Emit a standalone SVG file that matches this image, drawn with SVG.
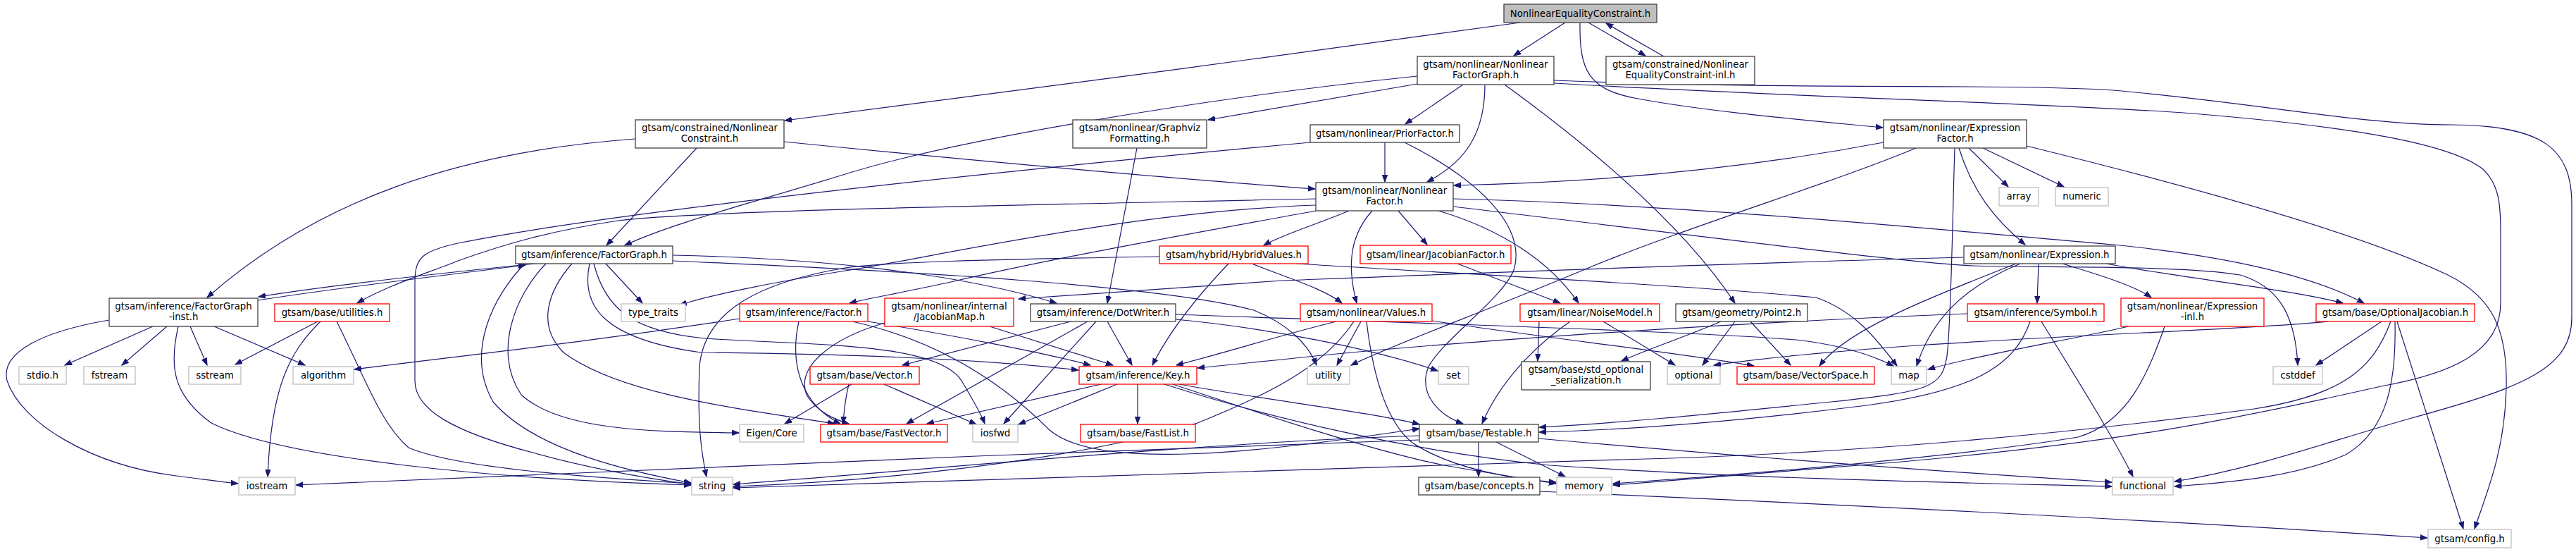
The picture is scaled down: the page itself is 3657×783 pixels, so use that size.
<svg xmlns="http://www.w3.org/2000/svg" width="3657" height="783" viewBox="0 0 3657 783">
<style>
rect{fill:#fff;stroke-width:1.3}
.n rect{stroke:#404040}
.t rect{stroke:#ff0000}
.x rect{stroke:#bfbfbf}
.r rect{fill:#bfbfbf;stroke:#404040}
text{font-family:"DejaVu Sans",sans-serif;font-size:13.3px;text-anchor:middle;fill:#000}
#edges path{fill:none;stroke:#191970;stroke-width:1.2;marker-end:url(#a)}
</style>
<defs>
<marker id="a" markerUnits="userSpaceOnUse" markerWidth="11" markerHeight="9" refX="10" refY="4" orient="auto">
<path d="M0,0.3 L10,4 L0,7.7 z" fill="#191970" stroke="#191970" stroke-width="1"/>
</marker>
</defs>
<rect x="0" y="0" width="3657" height="783" style="fill:#fff;stroke:none"/>
<g id="edges">
<path d="M2158,32 C1850,75 1400,135 1114,171"/>
<path d="M2222,32 L2149,79"/>
<path d="M2255,32 L2336,79"/>
<path d="M2362,80 L2280,33"/>
<path d="M2243,32 C2242,100 2255,126 2320,139 C2420,158 2560,170 2673,181"/>
<path d="M2012,108 C1700,140 1350,200 1200,247 C1060,290 950,318 887,348"/>
<path d="M2012,119 L1715,170"/>
<path d="M2077,120 L1995,176"/>
<path d="M2108,120 C2108,190 2080,230 2026,258"/>
<path d="M2136,120 C2260,210 2390,320 2463,430"/>
<path d="M2206,114 C2550,128 2850,118 3000,128 C3200,145 3350,177 3480,177 C3610,178 3651,210 3651,290 L3651,450 C3651,520 3590,548 3420,594 C3300,628 3200,665 3087,683"/>
<path d="M2206,118 C2550,138 2900,146 3100,160 C3350,180 3480,205 3525,240 C3548,262 3550,290 3550,330 L3550,430 C3550,500 3480,530 3380,548 C3150,600 3000,628 2700,655 C2500,672 2400,680 2290,688"/>
<path d="M902,197 C650,215 450,285 294,422"/>
<path d="M989,210 L861,348"/>
<path d="M1113,201 C1400,230 1700,256 1867,268"/>
<path d="M1614,210 L1572,430"/>
<path d="M1966,202 L1966,258"/>
<path d="M1860,202 C1500,235 900,295 650,345 C600,356 589,365 589,400 L589,540 C589,580 640,612 760,643 C850,668 930,680 981,687"/>
<path d="M1994,202 C2100,255 2165,320 2150,380 C2138,420 2050,480 2028,520 C2012,560 2045,590 2077,601"/>
<path d="M2674,202 C2500,235 2300,258 2064,263"/>
<path d="M2720,210 C2600,260 2400,320 2255,380 C2100,445 1970,492 1918,518"/>
<path d="M2775,210 C2772,300 2770,460 2764,505 C2757,550 2740,555 2600,570 C2400,590 2300,600 2185,606"/>
<path d="M2781,210 C2800,270 2830,310 2875,347"/>
<path d="M2795,210 L2851,265"/>
<path d="M2815,210 L2930,265"/>
<path d="M2877,207 C3100,262 3350,330 3475,390 C3540,422 3560,470 3558,550 C3556,640 3530,700 3513,750"/>
<path d="M1868,282 C1500,290 1000,298 877,313 C780,328 720,345 650,370 C600,390 550,405 507,430"/>
<path d="M1868,291 C1600,300 1300,370 1200,384 C1100,400 1000,420 965,433"/>
<path d="M1868,299 C1700,330 1500,365 1350,400 C1280,415 1230,424 1206,430"/>
<path d="M1915,299 C1870,318 1820,333 1794,348"/>
<path d="M1948,299 C1920,330 1910,370 1926,430"/>
<path d="M1985,299 L2026,347"/>
<path d="M2042,299 C2130,325 2200,370 2241,430"/>
<path d="M2063,282 C2400,290 2800,330 3000,347 C3180,365 3290,395 3356,430"/>
<path d="M2063,293 C2400,333 2700,372 2800,377 C2900,380 3100,376 3180,390 C3230,405 3258,440 3262,518"/>
<path d="M760,374 C600,390 450,408 367,421"/>
<path d="M366,426 C480,408 620,392 746,376"/>
<path d="M955,362 C1150,366 1350,385 1500,430"/>
<path d="M837,374 C825,430 850,480 995,500 C1200,502 1400,510 1531,525"/>
<path d="M843,374 C860,440 900,470 1000,480 C1150,490 1330,485 1365,540 C1380,565 1392,585 1398,601"/>
<path d="M860,374 L912,430"/>
<path d="M745,374 C700,420 660,500 700,570 C760,640 900,670 981,685"/>
<path d="M775,374 C730,420 700,500 740,560 C800,615 950,612 1049,614"/>
<path d="M812,374 C780,410 760,460 800,500 C880,560 1050,580 1185,601"/>
<path d="M955,370 C1300,385 1650,405 1780,440 C1830,460 1858,490 1869,518"/>
<path d="M217,463 L92,518"/>
<path d="M237,463 L173,518"/>
<path d="M270,463 L294,518"/>
<path d="M304,463 L433,518"/>
<path d="M155,454 C60,470 0,500 10,540 C30,600 130,660 250,675 C290,680 318,684 338,686"/>
<path d="M253,463 C240,520 245,560 300,600 C400,650 700,680 981,688"/>
<path d="M451,456 L334,517"/>
<path d="M455,456 C410,500 385,550 380,676"/>
<path d="M478,456 C520,540 540,600 580,635 C650,665 850,678 981,686"/>
<path d="M1050,452 C800,490 650,505 503,524"/>
<path d="M1232,456 C1350,475 1480,500 1548,518"/>
<path d="M1134,456 C1120,520 1140,575 1193,601"/>
<path d="M1210,456 C1340,485 1430,550 1490,610 C1560,670 1800,640 2015,608"/>
<path d="M1405,463 L1580,518"/>
<path d="M1256,458 C1180,480 1130,520 1145,560 C1160,585 1185,595 1205,601"/>
<path d="M1572,456 L1607,518"/>
<path d="M1520,456 L1281,518"/>
<path d="M1544,456 L1287,601"/>
<path d="M1556,456 L1425,601"/>
<path d="M1669,453 C1800,465 1950,495 2041,526"/>
<path d="M1669,446 C2000,458 2400,470 2550,482 C2620,490 2660,505 2688,519"/>
<path d="M1932,456 L1898,518"/>
<path d="M1897,456 C1820,475 1740,500 1670,518"/>
<path d="M1940,456 C1950,540 1970,600 2005,628 C2060,665 2150,680 2209,684"/>
<path d="M1922,456 C1880,520 1800,560 1700,600 C1500,660 1200,685 1041,690"/>
<path d="M2033,455 C2200,480 2380,500 2490,519"/>
<path d="M2229,456 C2180,490 2130,540 2104,601"/>
<path d="M2185,456 L2183,512"/>
<path d="M2276,456 L2378,518"/>
<path d="M2463,456 L2417,518"/>
<path d="M2485,456 L2542,518"/>
<path d="M2443,456 C2400,475 2340,495 2302,512"/>
<path d="M2793,445 C2400,460 2000,490 1820,510 C1760,516 1730,519 1700,522"/>
<path d="M2882,456 C2860,520 2800,555 2650,575 C2450,600 2300,610 2185,613"/>
<path d="M2898,456 C2950,540 3000,620 3028,676"/>
<path d="M3022,463 C2950,480 2800,505 2737,524"/>
<path d="M3073,463 C3050,530 3020,600 2950,620 C2800,645 2500,672 2290,686"/>
<path d="M3381,456 L3288,518"/>
<path d="M3403,456 L3497,750"/>
<path d="M3400,456 C3402,540 3390,610 3330,645 C3250,680 3150,685 3087,690"/>
<path d="M3394,456 C3370,520 3330,560 3200,580 C2900,620 2600,645 2300,652 C1800,665 1300,685 1041,692"/>
<path d="M3305,456 C3150,472 2700,480 2433,518"/>
<path d="M2099,627 L2099,676"/>
<path d="M2124,627 L2222,676"/>
<path d="M2184,622 C2500,650 2800,672 2998,684"/>
<path d="M2015,618 C1700,628 1300,668 1041,687"/>
<path d="M2015,624 C1500,640 800,672 420,688"/>
<path d="M2186,697 C2600,715 3100,740 3446,763"/>
<path d="M1615,545 L1615,601"/>
<path d="M1586,545 L1446,602"/>
<path d="M1563,545 L1316,601"/>
<path d="M1674,545 C1800,568 1950,585 2015,602"/>
<path d="M1653,545 C1800,592 2000,640 2200,660 C2500,680 2800,685 2998,690"/>
<path d="M1665,545 C1800,590 1950,640 2050,660 C2120,672 2170,680 2209,686"/>
<path d="M1209,545 L1114,601"/>
<path d="M1255,545 L1386,602"/>
<path d="M1205,545 C1200,565 1198,585 1197,601"/>
<path d="M1646,364 C1400,368 1250,372 1200,380 C1080,400 1000,440 993,520 C990,600 995,640 1003,676"/>
<path d="M1777,374 C1830,395 1880,410 1905,430"/>
<path d="M1744,374 C1700,420 1660,470 1636,518"/>
<path d="M1840,374 C2100,390 2400,405 2578,422 C2630,440 2660,475 2693,519"/>
<path d="M2069,374 L2215,430"/>
<path d="M2788,365 C2400,375 1900,395 1820,398 C1650,410 1520,418 1446,424"/>
<path d="M2894,374 L2892,430"/>
<path d="M2862,374 C2720,430 2620,470 2583,519"/>
<path d="M2868,374 C2780,410 2740,460 2721,519"/>
<path d="M2928,374 C2980,390 3030,405 3054,422"/>
<path d="M2990,374 C3100,395 3250,410 3326,430"/>
</g>
<g id="root" class="r"><rect x="2135" y="6" width="217" height="26"/><text x="2243.5" y="24">NonlinearEqualityConstraint.h</text></g>
<g id="nfg" class="n"><rect x="2012" y="80" width="194" height="40"/><text x="2109" y="96">gtsam/nonlinear/Nonlinear</text><text x="2109" y="111">FactorGraph.h</text></g>
<g id="inl" class="n"><rect x="2280" y="80" width="211" height="40"/><text x="2385.5" y="96">gtsam/constrained/Nonlinear</text><text x="2385.5" y="111">EqualityConstraint-inl.h</text></g>
<g id="nc" class="n"><rect x="902" y="170" width="211" height="40"/><text x="1007.5" y="186">gtsam/constrained/Nonlinear</text><text x="1007.5" y="201">Constraint.h</text></g>
<g id="gv" class="n"><rect x="1523" y="170" width="190" height="40"/><text x="1618" y="186">gtsam/nonlinear/Graphviz</text><text x="1618" y="201">Formatting.h</text></g>
<g id="pf" class="n"><rect x="1860" y="177" width="212" height="25"/><text x="1966" y="194">gtsam/nonlinear/PriorFactor.h</text></g>
<g id="ef" class="n"><rect x="2674" y="170" width="203" height="40"/><text x="2775.5" y="186">gtsam/nonlinear/Expression</text><text x="2775.5" y="201">Factor.h</text></g>
<g id="nf" class="n"><rect x="1868" y="259" width="195" height="40"/><text x="1965.5" y="275">gtsam/nonlinear/Nonlinear</text><text x="1965.5" y="290">Factor.h</text></g>
<g id="array" class="x"><rect x="2838" y="266" width="56" height="26"/><text x="2866" y="283">array</text></g>
<g id="numeric" class="x"><rect x="2918" y="266" width="75" height="26"/><text x="2955.5" y="283">numeric</text></g>
<g id="fg" class="n"><rect x="732" y="349" width="223" height="25"/><text x="843.5" y="366">gtsam/inference/FactorGraph.h</text></g>
<g id="hv" class="t"><rect x="1646" y="349" width="211" height="25"/><text x="1751.5" y="366">gtsam/hybrid/HybridValues.h</text></g>
<g id="jf" class="t"><rect x="1931" y="348" width="214" height="26"/><text x="2038" y="366">gtsam/linear/JacobianFactor.h</text></g>
<g id="ex" class="n"><rect x="2788" y="349" width="215" height="25"/><text x="2895.5" y="366">gtsam/nonlinear/Expression.h</text></g>
<g id="inst" class="n"><rect x="155" y="423" width="211" height="40"/><text x="260.5" y="439">gtsam/inference/FactorGraph</text><text x="260.5" y="454">-inst.h</text></g>
<g id="util" class="t"><rect x="390" y="431" width="163" height="25"/><text x="471.5" y="448">gtsam/base/utilities.h</text></g>
<g id="tt" class="x"><rect x="882" y="431" width="91" height="25"/><text x="927.5" y="448">type_traits</text></g>
<g id="fa" class="t"><rect x="1050" y="431" width="182" height="25"/><text x="1141" y="448">gtsam/inference/Factor.h</text></g>
<g id="jm" class="t"><rect x="1256" y="423" width="183" height="40"/><text x="1347.5" y="439">gtsam/nonlinear/internal</text><text x="1347.5" y="454">/JacobianMap.h</text></g>
<g id="dw" class="n"><rect x="1463" y="431" width="206" height="25"/><text x="1566" y="448">gtsam/inference/DotWriter.h</text></g>
<g id="va" class="t"><rect x="1846" y="431" width="187" height="25"/><text x="1939.5" y="448">gtsam/nonlinear/Values.h</text></g>
<g id="nm" class="t"><rect x="2158" y="431" width="198" height="25"/><text x="2257" y="448">gtsam/linear/NoiseModel.h</text></g>
<g id="p2" class="n"><rect x="2379" y="431" width="187" height="25"/><text x="2472.5" y="448">gtsam/geometry/Point2.h</text></g>
<g id="sy" class="t"><rect x="2793" y="431" width="194" height="25"/><text x="2890" y="448">gtsam/inference/Symbol.h</text></g>
<g id="ei" class="t"><rect x="3011" y="423" width="203" height="40"/><text x="3112.5" y="439">gtsam/nonlinear/Expression</text><text x="3112.5" y="454">-inl.h</text></g>
<g id="oj" class="t"><rect x="3288" y="431" width="225" height="25"/><text x="3400.5" y="448">gtsam/base/OptionalJacobian.h</text></g>
<g id="stdio" class="x"><rect x="27" y="520" width="67" height="25"/><text x="60.5" y="537">stdio.h</text></g>
<g id="fstream" class="x"><rect x="119" y="520" width="73" height="25"/><text x="155.5" y="537">fstream</text></g>
<g id="sstream" class="x"><rect x="268" y="520" width="74" height="25"/><text x="305" y="537">sstream</text></g>
<g id="algorithm" class="x"><rect x="416" y="520" width="86" height="25"/><text x="459" y="537">algorithm</text></g>
<g id="vec" class="t"><rect x="1150" y="520" width="155" height="25"/><text x="1227.5" y="537">gtsam/base/Vector.h</text></g>
<g id="key" class="t"><rect x="1532" y="520" width="167" height="25"/><text x="1615.5" y="537">gtsam/inference/Key.h</text></g>
<g id="utility" class="x"><rect x="1856" y="520" width="60" height="25"/><text x="1886" y="537">utility</text></g>
<g id="set" class="x"><rect x="2042" y="520" width="43" height="25"/><text x="2063.5" y="537">set</text></g>
<g id="sos" class="n"><rect x="2160" y="513" width="183" height="40"/><text x="2251.5" y="529">gtsam/base/std_optional</text><text x="2251.5" y="544">_serialization.h</text></g>
<g id="optional" class="x"><rect x="2367" y="520" width="75" height="25"/><text x="2404.5" y="537">optional</text></g>
<g id="vs" class="t"><rect x="2466" y="520" width="195" height="25"/><text x="2563.5" y="537">gtsam/base/VectorSpace.h</text></g>
<g id="map" class="x"><rect x="2685" y="520" width="50" height="25"/><text x="2710" y="537">map</text></g>
<g id="cstddef" class="x"><rect x="3227" y="520" width="70" height="25"/><text x="3262" y="537">cstddef</text></g>
<g id="eigen" class="x"><rect x="1050" y="602" width="91" height="25"/><text x="1095.5" y="619">Eigen/Core</text></g>
<g id="fv" class="t"><rect x="1165" y="602" width="180" height="25"/><text x="1255" y="619">gtsam/base/FastVector.h</text></g>
<g id="iosfwd" class="x"><rect x="1381" y="602" width="64" height="25"/><text x="1413" y="619">iosfwd</text></g>
<g id="fl" class="t"><rect x="1534" y="602" width="163" height="25"/><text x="1615.5" y="619">gtsam/base/FastList.h</text></g>
<g id="testable" class="n"><rect x="2015" y="602" width="169" height="25"/><text x="2099.5" y="619">gtsam/base/Testable.h</text></g>
<g id="iostream" class="x"><rect x="339" y="677" width="80" height="25"/><text x="379" y="694">iostream</text></g>
<g id="string" class="x"><rect x="982" y="677" width="58" height="25"/><text x="1011" y="694">string</text></g>
<g id="concepts" class="n"><rect x="2014" y="677" width="172" height="25"/><text x="2100" y="694">gtsam/base/concepts.h</text></g>
<g id="memory" class="x"><rect x="2210" y="677" width="78" height="25"/><text x="2249" y="694">memory</text></g>
<g id="functional" class="x"><rect x="2999" y="677" width="86" height="25"/><text x="3042" y="694">functional</text></g>
<g id="config" class="x"><rect x="3447" y="751" width="118" height="26"/><text x="3506" y="769">gtsam/config.h</text></g>
</svg>
